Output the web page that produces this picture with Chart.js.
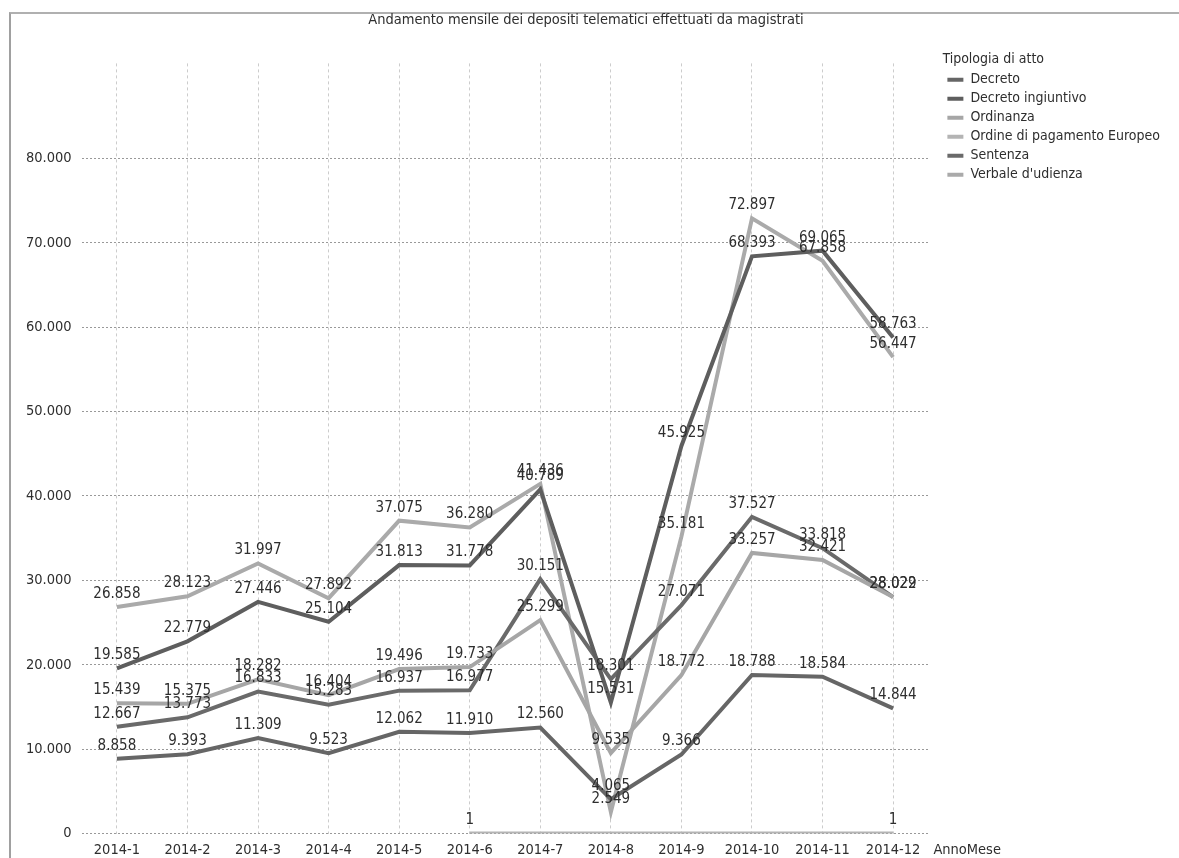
<!DOCTYPE html>
<html>
<head>
<meta charset="utf-8">
<script src="https://cdn.jsdelivr.net/npm/chart.js@4.4.1/dist/chart.umd.min.js"></script>
<style>
  html, body { margin: 0; padding: 0; background: #fff; }
  #wrap { position: relative; width: 1179px; height: 858px; }
  #frame { position: absolute; left: 9px; top: 12px; right: 0; bottom: 0;
           border-left: 2px solid #a0a0a0; border-top: 2px solid #b0b0b0; }
  canvas { position: absolute; left: 0; top: 0; }
</style>
</head>
<body>
<div id="wrap">
  <div id="frame"></div>
  <canvas id="chart" width="1179" height="858"></canvas>
</div>
<script>
// mesi sull'asse x
const mesi = ['2014-1', '2014-2', '2014-3', '2014-4', '2014-5', '2014-6',
              '2014-7', '2014-8', '2014-9', '2014-10', '2014-11', '2014-12'];

// depositi per tipologia di atto
const decreto = [8858, 9393, 11309, 9523, 12062, 11910, 12560, 4065, 9366, 18788, 18584, 14844];
const decretoIngiuntivo = [19585, 22779, 27446, 25104, 31813, 31778, 40789, 15531, 45925, 68393, 69065, 58763];
const ordinanza = [15439, 15375, 18282, 16404, 19496, 19733, 25299, 9535, 18772, 33257, 32421, 28022];
const ordinePagamento = [null, null, null, null, null, 1, null, null, null, null, null, 1];
const sentenza = [12667, 13773, 16833, 15283, 16937, 16977, 30151, 18301, 27071, 37527, 33818, 28029];
const verbaleUdienza = [26858, 28123, 31997, 27892, 37075, 36280, 41436, 2549, 35181, 72897, 67858, 56447];

const yTicks = [0, 10000, 20000, 30000, 40000, 50000, 60000, 70000, 80000];

const FONT = '"DejaVu Sans Condensed", "Liberation Sans Narrow", Arial, sans-serif';

// formato italiano con il punto per le migliaia
const fmt = (v) => String(v).replace(/\B(?=(\d{3})+(?!\d))/g, '.');

// etichette dei valori sopra ogni punto
const valueLabels = {
  id: 'valueLabels',
  afterDatasetsDraw(chart) {
    const ctx = chart.ctx;
    ctx.save();
    ctx.font = '15px ' + FONT;
    ctx.fillStyle = '#2e2e2e';
    ctx.textAlign = 'center';
    ctx.textBaseline = 'middle';
    chart.data.datasets.forEach((ds, i) => {
      const meta = chart.getDatasetMeta(i);
      meta.data.forEach((pt, j) => {
        const v = ds.data[j];
        if (v === null || v === undefined) return;
        ctx.fillText(fmt(v), pt.x, pt.y - 13);
      });
    });
    ctx.restore();
  }
};

// titolo dell'asse x a destra delle etichette + legenda un po' staccata dal grafico
const xAxisName = {
  id: 'xAxisName',
  afterLayout(chart) {
    if (chart.legend) {
      chart.legend.left += 14;
      chart.legend.right += 14;
    }
  },
  afterDraw(chart) {
    const ctx = chart.ctx;
    const area = chart.chartArea;
    ctx.save();
    ctx.font = '14.5px ' + FONT;
    ctx.fillStyle = '#2e2e2e';
    ctx.textAlign = 'left';
    ctx.textBaseline = 'middle';
    ctx.fillText('AnnoMese', area.right + 5, area.bottom + 17);
    ctx.restore();
  }
};

const makeSet = (label, data, color) => ({
  label: label,
  data: data,
  borderColor: color,
  backgroundColor: color,
  borderWidth: 4,
  pointRadius: 0,
  pointHoverRadius: 0,
  tension: 0,
  spanGaps: true
});

new Chart(document.getElementById('chart'), {
  type: 'line',
  data: {
    labels: mesi,
    datasets: [
      makeSet('Decreto', decreto, '#666666'),
      makeSet('Decreto ingiuntivo', decretoIngiuntivo, '#5e5e5e'),
      makeSet('Ordinanza', ordinanza, '#a6a6a6'),
      makeSet('Ordine di pagamento Europeo', ordinePagamento, '#b4b4b4'),
      makeSet('Sentenza', sentenza, '#6a6a6a'),
      makeSet("Verbale d'udienza", verbaleUdienza, '#aaaaaa')
    ]
  },
  options: {
    responsive: false,
    animation: false,
    layout: { padding: { left: 16, right: 23, top: 8, bottom: -9 } },
    plugins: {
      title: {
        display: true,
        text: 'Andamento mensile dei depositi telematici effettuati da magistrati',
        color: '#2e2e2e',
        font: { family: FONT, size: 14.5, weight: 'normal' },
        padding: { top: 4, bottom: 34 }
      },
      legend: {
        position: 'right',
        align: 'start',
        title: {
          display: true,
          position: 'start',
          text: 'Tipologia di atto',
          color: '#2e2e2e',
          font: { family: FONT, size: 14 },
          padding: { top: 44, bottom: -1 }
        },
        labels: {
          color: '#2e2e2e',
          font: { family: FONT, size: 14 },
          usePointStyle: true,
          pointStyle: 'line',
          pointStyleWidth: 16,
          boxHeight: 10,
          padding: 5
        }
      },
      tooltip: { enabled: false }
    },
    scales: {
      x: {
        offset: true,
        grid: { offset: false, color: '#cccccc', drawTicks: false },
        border: { display: false, dash: [3, 3] },
        ticks: { color: '#2e2e2e', font: { family: FONT, size: 14.5 }, padding: 8, maxRotation: 0, autoSkip: false }
      },
      y: {
        min: 0,
        max: 91250,
        afterBuildTicks(axis) {
          axis.ticks = yTicks.map(v => ({ value: v }));
        },
        grid: { color: '#999999', drawTicks: false },
        border: { display: false, dash: [2, 2] },
        ticks: { color: '#2e2e2e', font: { family: FONT, size: 14.5 }, padding: 10, callback: (v) => fmt(v) }
      }
    }
  },
  plugins: [valueLabels, xAxisName]
});
</script>
</body>
</html>
